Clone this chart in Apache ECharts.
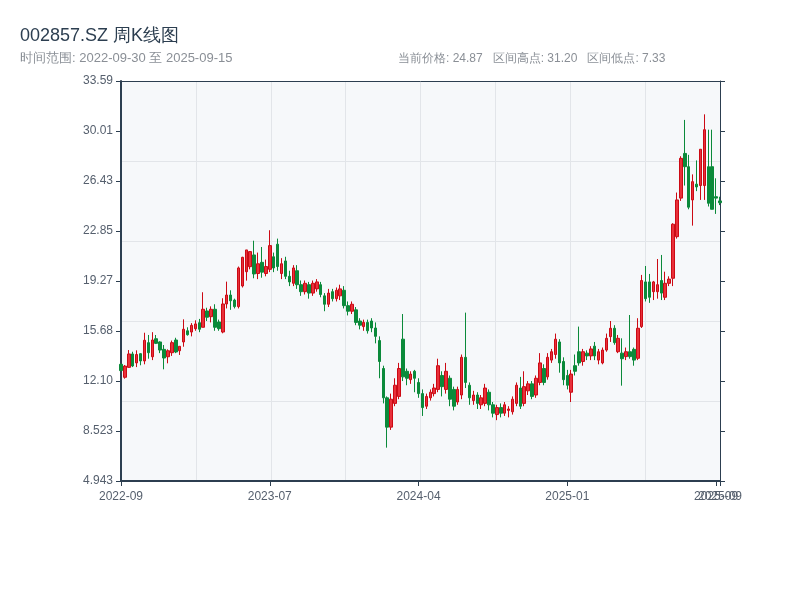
<!DOCTYPE html>
<html><head><meta charset="utf-8">
<script src="https://cdn.jsdelivr.net/npm/echarts@6/dist/echarts.min.js"></script>
<style>html,body{margin:0;padding:0;background:#fff}#c{width:800px;height:600px}</style>
</head><body><div id="c"></div>
<script>
const dates = [
'2022-09-30','2022-10-14','2022-10-21','2022-10-28','2022-11-04','2022-11-11','2022-11-18','2022-11-25','2022-12-02','2022-12-09',
'2022-12-16','2022-12-23','2022-12-30','2023-01-06','2023-01-13','2023-01-20','2023-02-03','2023-02-10','2023-02-17','2023-02-24',
'2023-03-03','2023-03-10','2023-03-17','2023-03-24','2023-03-31','2023-04-07','2023-04-14','2023-04-21','2023-04-28','2023-05-05',
'2023-05-12','2023-05-19','2023-05-26','2023-06-02','2023-06-09','2023-06-16','2023-06-21','2023-06-30','2023-07-07','2023-07-14',
'2023-07-21','2023-07-28','2023-08-04','2023-08-11','2023-08-18','2023-08-25','2023-09-01','2023-09-08','2023-09-15','2023-09-22',
'2023-09-28','2023-10-13','2023-10-20','2023-10-27','2023-11-03','2023-11-10','2023-11-17','2023-11-24','2023-12-01','2023-12-08',
'2023-12-15','2023-12-22','2023-12-29','2024-01-05','2024-01-12','2024-01-19','2024-01-26','2024-02-02','2024-02-08','2024-02-23',
'2024-03-01','2024-03-08','2024-03-15','2024-03-22','2024-03-29','2024-04-03','2024-04-12','2024-04-19','2024-04-26','2024-04-30',
'2024-05-10','2024-05-17','2024-05-24','2024-05-31','2024-06-07','2024-06-14','2024-06-21','2024-06-28','2024-07-05','2024-07-12',
'2024-07-19','2024-07-26','2024-08-02','2024-08-09','2024-08-16','2024-08-23','2024-08-30','2024-09-06','2024-09-13','2024-09-20',
'2024-09-27','2024-09-30','2024-10-11','2024-10-18','2024-10-25','2024-11-01','2024-11-08','2024-11-15','2024-11-22','2024-11-29',
'2024-12-06','2024-12-13','2024-12-20','2024-12-27','2025-01-03','2025-01-10','2025-01-17','2025-01-24','2025-01-27','2025-02-07',
'2025-02-14','2025-02-21','2025-02-28','2025-03-07','2025-03-14','2025-03-21','2025-03-28','2025-04-03','2025-04-11','2025-04-18',
'2025-04-25','2025-04-30','2025-05-09','2025-05-16','2025-05-23','2025-05-30','2025-06-06','2025-06-13','2025-06-20','2025-06-27',
'2025-07-04','2025-07-11','2025-07-18','2025-07-25','2025-08-01','2025-08-08','2025-08-15','2025-08-22','2025-08-29','2025-09-03',
'2025-09-05','2025-09-10','2025-09-12','2025-09-15'
];
const openP = [
13.30,12.37,13.08,14.04,13.40,14.06,13.54,14.85,13.84,15.13,
14.90,14.37,13.84,14.13,15.04,14.27,14.90,15.70,15.61,15.85,
16.28,15.95,17.12,16.71,17.24,16.33,15.61,17.62,18.26,17.90,
17.43,18.91,19.93,20.29,21.13,19.80,20.60,19.80,20.10,21.00,
21.90,19.80,20.70,19.60,19.10,20.00,19.00,18.50,19.00,18.40,
18.70,19.00,18.20,17.60,18.50,18.00,18.20,18.60,17.50,17.10,
17.20,16.40,16.00,16.30,16.40,15.90,15.00,13.00,10.90,8.80,
10.50,11.00,15.10,12.80,12.20,12.80,12.00,11.20,10.30,10.90,
11.20,11.50,12.50,11.50,12.30,11.50,10.60,11.10,13.80,11.80,
10.70,11.10,10.40,10.50,11.30,10.40,9.70,10.20,9.80,10.00,
9.90,10.50,11.60,10.50,11.40,11.90,11.10,12.00,13.00,12.40,
13.60,14.00,14.90,13.50,12.50,11.30,13.20,14.20,13.50,14.10,
13.90,14.60,13.60,13.40,14.32,15.28,15.88,14.20,14.10,13.85,
14.20,14.37,13.73,16.00,19.20,19.20,18.50,18.50,19.30,18.10,
19.10,19.46,22.44,25.20,28.40,27.45,25.07,26.20,26.10,26.10,
27.45,27.45,25.30,25.00
];
const closeP = [
12.85,13.17,14.04,13.18,14.00,13.54,15.02,14.13,15.04,14.80,
14.32,13.75,14.27,14.85,14.18,14.59,15.81,15.42,16.09,16.19,
15.81,17.24,16.67,17.24,15.95,15.85,17.62,18.26,17.85,17.43,
20.20,20.96,21.49,21.37,19.77,20.50,19.90,20.30,21.80,20.20,
20.30,20.50,19.60,19.20,20.20,19.00,18.50,19.10,18.40,19.10,
19.20,18.30,17.60,18.40,18.00,18.60,18.70,17.50,17.10,17.60,
16.30,16.10,16.30,15.70,15.90,15.30,13.50,10.90,8.80,10.80,
11.80,13.00,12.40,12.30,12.60,12.30,11.20,10.20,11.00,11.30,
11.60,13.20,11.70,12.80,10.80,10.30,11.50,13.80,12.00,10.90,
11.10,10.50,10.90,11.60,10.40,9.80,10.20,9.80,10.40,10.10,
10.80,11.80,10.30,11.70,11.90,11.00,12.30,13.40,12.00,13.80,
14.20,15.10,13.40,12.20,11.80,12.60,12.80,13.40,14.20,13.90,
14.40,13.90,14.20,14.32,15.16,15.88,14.85,15.16,13.70,14.20,
13.85,13.60,15.88,19.30,18.00,18.10,19.20,19.00,18.40,19.10,
19.40,23.33,25.07,28.05,27.45,24.55,26.38,26.00,28.70,30.10,
24.83,24.40,25.20,24.87
];
const lowP = [
12.80,12.27,13.05,13.10,13.10,13.23,13.30,13.70,13.60,14.75,
14.10,12.94,13.37,13.90,14.10,13.97,14.56,15.35,15.30,15.70,
15.60,15.95,16.40,16.30,15.70,15.70,15.52,17.30,17.20,17.30,
17.30,18.80,19.29,20.10,19.46,19.40,19.50,19.60,19.90,19.90,
20.00,19.40,19.40,18.90,18.90,18.70,18.20,18.30,18.00,18.20,
18.50,18.10,17.10,17.40,17.80,17.80,17.90,17.30,16.80,16.90,
16.10,15.80,15.70,15.50,15.60,14.80,12.30,10.50,7.33,8.60,
10.30,10.80,12.10,11.80,11.90,11.30,10.90,9.60,10.10,10.70,
11.00,11.30,11.00,11.20,10.30,10.00,10.40,10.80,11.60,10.40,
10.40,10.10,10.10,10.30,10.00,9.50,9.30,9.50,9.60,9.50,
9.70,10.30,10.10,10.30,11.10,10.80,10.90,11.80,11.80,12.20,
13.40,13.70,12.70,11.80,11.50,10.60,12.50,13.20,13.20,13.60,
13.60,13.60,13.30,13.30,14.20,14.90,14.70,14.10,11.77,13.60,
13.70,13.20,13.60,15.90,17.80,17.70,17.90,18.00,17.90,17.90,
18.90,18.90,22.30,25.00,26.10,24.40,23.23,25.70,25.07,25.07,
24.60,24.40,24.07,24.70
];
const highP = [
13.35,13.25,14.32,14.20,14.30,14.10,15.56,15.40,15.60,15.40,
14.95,14.68,14.37,15.00,15.20,14.59,16.52,15.95,16.25,16.45,
16.55,18.46,17.35,17.45,17.60,16.50,18.03,19.22,18.60,18.00,
20.30,21.00,21.49,21.40,22.15,21.30,21.70,20.80,22.90,21.30,
22.30,20.90,21.00,20.00,20.40,20.40,19.30,19.30,19.20,19.30,
19.40,19.20,18.40,18.70,18.70,18.80,19.00,18.90,17.80,17.80,
17.40,16.60,16.50,16.50,16.60,16.30,15.30,13.20,11.00,11.20,
12.30,13.40,16.90,13.00,12.80,12.90,12.30,11.50,11.20,11.50,
11.90,13.70,12.80,13.40,12.50,11.70,11.70,14.00,17.00,12.00,
11.40,11.30,11.10,11.90,11.50,10.60,10.40,10.50,10.60,10.30,
11.00,12.00,12.40,12.80,12.10,12.10,12.50,14.10,13.30,14.10,
14.40,15.50,15.10,13.80,12.90,12.90,14.00,16.00,14.40,14.30,
14.60,14.90,14.40,14.50,15.50,16.40,16.10,15.40,15.16,14.50,
16.83,14.50,16.60,19.70,20.34,19.77,19.27,20.84,21.13,19.93,
19.60,23.40,25.60,28.20,30.80,28.30,26.90,27.90,28.70,31.20,
30.10,30.10,26.62,25.30
];
const yTickLabels = ['4.943','8.523','12.10','15.68','19.27','22.85','26.43','30.01','33.59'];
const yMin = 4.943, yMax = 33.587;
const labelStep = 38;

const candleData = dates.map((d, i) => [openP[i], closeP[i], lowP[i], highP[i]]);
const step = (yMax - yMin) / 8;
const lastIdx = dates.length - 1;
const isLabelIdx = i => i % labelStep === 0 || i === lastIdx;
const chart = echarts.init(document.getElementById('c'));
const axisColor = '#2c3e50';
chart.setOption({
  animation: false,
  backgroundColor: '#ffffff',
  title: [
    {text: '002857.SZ 周K线图', left: 20, top: 27, padding: 0, textStyle: {fontSize: 18, fontWeight: 'normal', color: '#2c3e50'}},
    {text: '时间范围: 2022-09-30 至 2025-09-15', left: 20, top: 52, padding: 0, textStyle: {fontSize: 13, fontWeight: 'normal', color: '#8a8f96'}},
    {text: '当前价格: 24.87   区间高点: 31.20   区间低点: 7.33', left: 398, top: 53, padding: 0, textStyle: {fontSize: 12, fontWeight: 'normal', color: '#8a8f96'}}
  ],
  grid: {left: 121, right: 80, top: 81, bottom: 119, show: true, backgroundColor: '#f6f8fa', borderWidth: 0},
  xAxis: [
    {type: 'category', data: dates, boundaryGap: false,
     axisLine: {lineStyle: {color: axisColor, width: 2}},
     axisTick: {show: true, interval: (i) => isLabelIdx(i), length: 5, lineStyle: {color: axisColor}},
     axisLabel: {interval: 0, color: '#555f6d', fontSize: 12, margin: 10,
       formatter: (v, i) => isLabelIdx(i) ? v.slice(0, 7) : ''},
     splitLine: {show: false}},
    {type: 'value', min: 0, max: 8, interval: 1, position: 'top',
     axisLine: {show: true, onZero: false, lineStyle: {color: axisColor, width: 1}},
     axisTick: {show: false}, axisLabel: {show: false},
     splitLine: {show: true, lineStyle: {color: '#e2e5e9', width: 1}}}
  ],
  yAxis: [
    {type: 'value', min: yMin, max: yMax, interval: step, position: 'left',
     axisLine: {show: true, lineStyle: {color: axisColor, width: 2}},
     axisTick: {show: true, length: 5, lineStyle: {color: axisColor}},
     axisLabel: {color: '#555f6d', fontSize: 12, margin: 8, formatter: (v, i) => yTickLabels[i]},
     splitLine: {show: false}},
    {type: 'value', min: yMin, max: yMax, interval: step, position: 'right',
     axisLine: {show: true, onZero: false, lineStyle: {color: axisColor, width: 1}},
     axisTick: {show: true, length: 5, lineStyle: {color: axisColor}},
     axisLabel: {show: false}, splitLine: {show: false}},
    {type: 'value', min: 0, max: 5, interval: 1, position: 'right',
     axisLine: {show: false}, axisTick: {show: false}, axisLabel: {show: false},
     splitLine: {show: true, lineStyle: {color: '#e2e5e9', width: 1}}}
  ],
  series: [{
    type: 'candlestick', xAxisIndex: 0, yAxisIndex: 0, data: candleData, barWidth: 3,
    itemStyle: {color: '#e8303a', color0: '#0b8a3a', borderColor: '#cc0a14', borderColor0: '#0b8a3a', borderWidth: 1}
  }]
});
</script></body></html>
